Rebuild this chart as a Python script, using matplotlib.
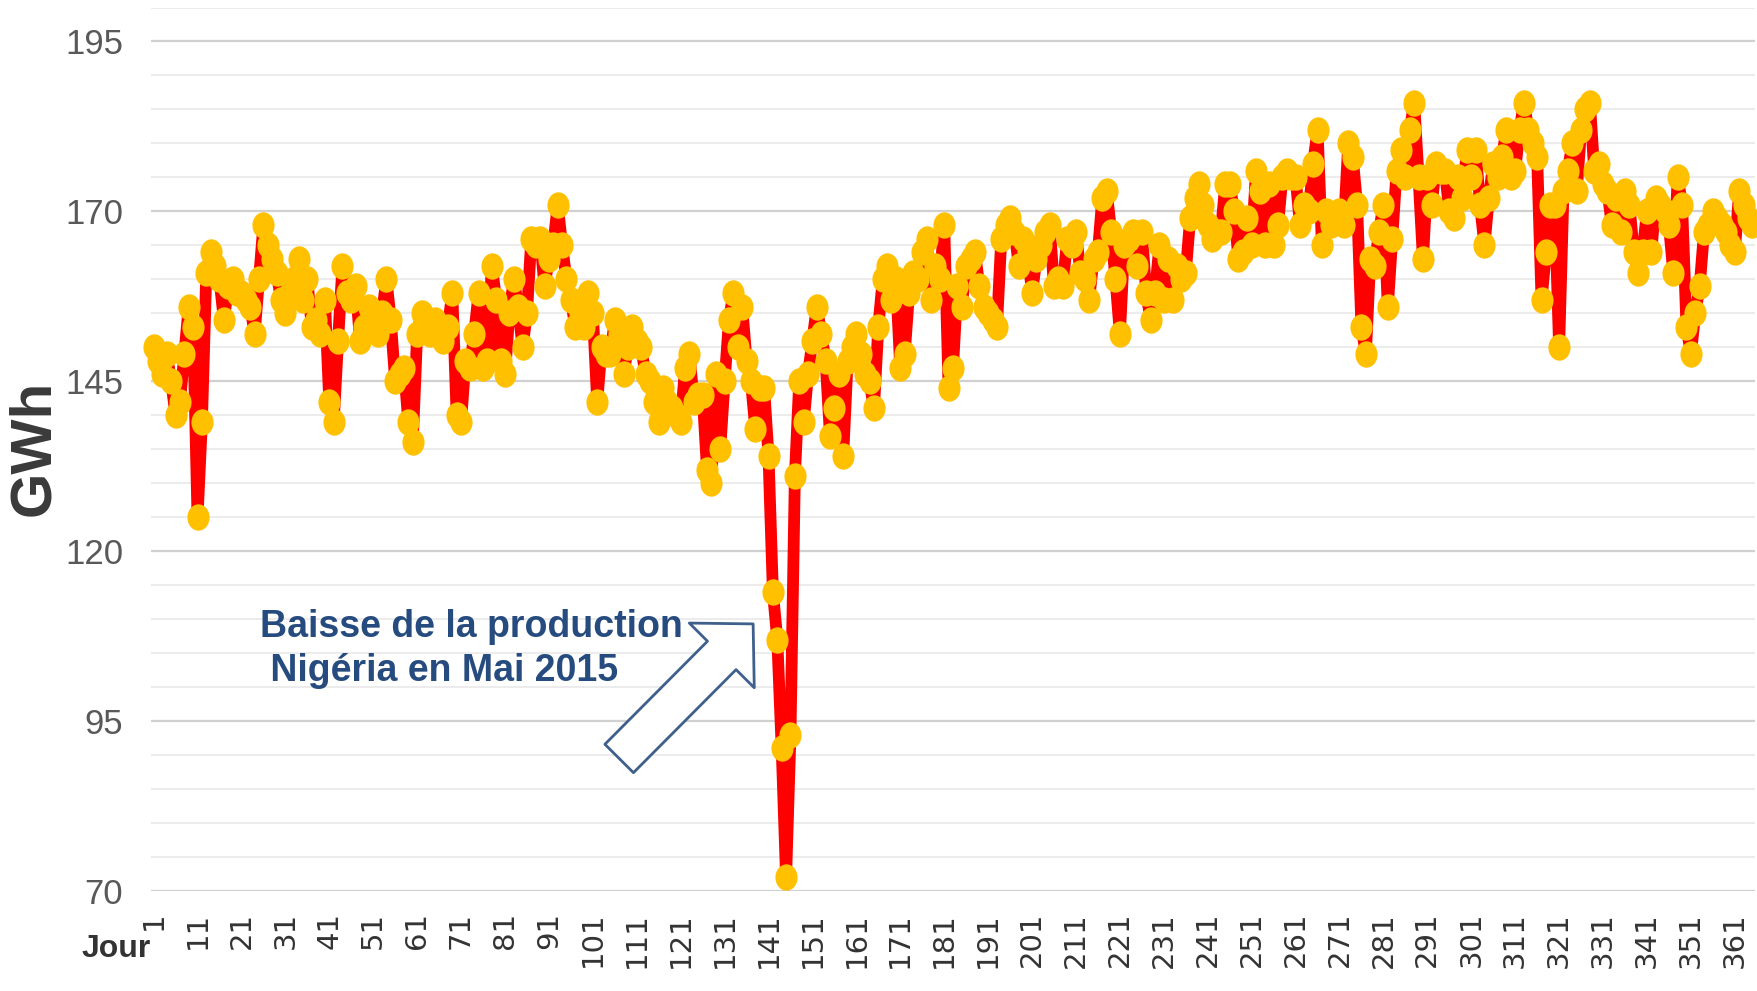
import matplotlib
matplotlib.use("Agg")
import matplotlib.pyplot as plt
from matplotlib.patches import FancyArrowPatch, ArrowStyle
from matplotlib.ticker import MultipleLocator
from matplotlib.path import Path
from matplotlib.transforms import Affine2D
import numpy as np

# ---------------- data ----------------
days = list(range(1, 366))
gwh = [
    150, 148, 146, 149, 145, 140, 142, 149, 156, 153,
    125, 139, 161, 164, 162, 160, 154, 159, 160, 158,
    158, 157, 156, 152, 160, 168, 165, 163, 161, 157,
    155, 158, 160, 163, 157, 160, 153, 154, 152, 157,
    142, 139, 151, 162, 158, 157, 159, 151, 153, 156,
    154, 152, 155, 160, 154, 145, 146, 147, 139, 136,
    152, 155, 153, 152, 154, 152, 151, 153, 158, 140,
    139, 148, 147, 152, 158, 147, 148, 162, 157, 148,
    146, 155, 160, 156, 150, 155, 166, 165, 166, 159,
    163, 165, 171, 165, 160, 157, 153, 155, 153, 158,
    155, 142, 150, 149, 149, 154, 152, 146, 150, 153,
    151, 150, 146, 145, 142, 139, 144, 142, 141, 140,
    139, 147, 149, 142, 143, 143, 132, 130, 146, 135,
    145, 154, 158, 150, 156, 148, 145, 138, 144, 144,
    134, 114, 107, 91, 72, 93, 131, 145, 139, 146,
    151, 156, 152, 148, 137, 141, 146, 134, 148, 150,
    152, 149, 146, 145, 141, 153, 160, 162, 157, 160,
    147, 149, 158, 161, 160, 164, 166, 157, 162, 160,
    168, 144, 147, 159, 156, 162, 163, 164, 159, 156,
    155, 154, 153, 166, 168, 169, 167, 162, 166, 164,
    158, 163, 165, 167, 168, 159, 160, 159, 166, 165,
    167, 161, 160, 157, 163, 164, 172, 173, 167, 160,
    152, 165, 166, 167, 162, 167, 158, 154, 158, 165,
    157, 163, 157, 162, 160, 161, 169, 172, 174, 171,
    168, 166, 167, 167, 174, 174, 170, 163, 164, 169,
    165, 176, 173, 165, 174, 165, 168, 175, 176, 175,
    175, 168, 171, 170, 177, 182, 165, 170, 168, 169,
    170, 168, 180, 178, 171, 153, 149, 163, 162, 167,
    171, 156, 166, 176, 179, 175, 182, 186, 175, 163,
    175, 171, 177, 176, 176, 170, 169, 175, 172, 179,
    175, 179, 171, 165, 172, 177, 175, 178, 182, 175,
    176, 182, 186, 182, 180, 178, 157, 164, 171, 171,
    150, 173, 176, 180, 173, 182, 185, 186, 176, 177,
    174, 173, 168, 172, 167, 173, 171, 164, 161, 164,
    170, 164, 172, 171, 170, 168, 161, 175, 171, 153,
    149, 155, 159, 167, 168, 170, 169, 168, 167, 165,
    164, 173, 171, 169, 168,
]
y_ticks = [70, 95, 120, 145, 170, 195]
x_tick_days = list(range(1, 366, 10))
x_tick_labels = [str(d) for d in x_tick_days]
y_label = "GWh"
x_label = "Jour"
annot_text = "Baisse de la production\n Nigéria en Mai 2015"

# ---------------- figure ----------------
W, H = 1758, 991
fig = plt.figure(figsize=(W / 100, H / 100), dpi=100)
ax = fig.add_axes([151 / W, 100 / H, 1604 / W, 883.5 / H])
ax.set_xlim(0.41, 365.6)
ax.set_ylim(70, 200)

for s in ax.spines.values():
    s.set_visible(False)

ax.set_yticks(y_ticks)
ax.yaxis.set_minor_locator(MultipleLocator(5))
ax.grid(which="minor", axis="y", color="#EBEBEB", lw=1.3, zorder=0)
ax.grid(which="major", axis="y", color="#D0D0D0", lw=1.6, zorder=0)
ax.set_axisbelow(True)

# slightly tall elliptical marker, as in the reference
ellipse = Path.unit_circle().transformed(Affine2D().scale(0.84, 1.0))

ax.plot(days, gwh, color="#FF0000", lw=8.5, solid_joinstyle="round",
        marker=ellipse, ms=19, mfc="#FFC000", mec="#FFC000", mew=0,
        zorder=3, clip_on=False)

ax.set_xticks(x_tick_days)
ax.set_xticklabels(x_tick_labels, rotation=90, fontsize=21,
                   color="#333333", family=["DejaVu Sans"])
ax.set_yticklabels([str(v) for v in y_ticks], fontsize=25,
                   color="#595959", family=["Liberation Sans", "DejaVu Sans"])
ax.tick_params(axis="x", which="both", length=0, pad=15)
ax.tick_params(axis="y", which="both", length=0, pad=20)

fig.text(34 / W, 1 - 448 / H, y_label, rotation=90, fontsize=42,
         fontweight="bold", color="#3A3A3A", ha="center", va="center",
         family=["Liberation Sans", "DejaVu Sans"])
fig.text(151 / W, 1 - 949 / H, x_label, ha="right", va="center",
         fontsize=23, fontweight="bold", color="#333333",
         family=["Liberation Sans", "DejaVu Sans"])

# annotation
ax.text(25.2, 111.5, annot_text, ha="left", va="top", fontsize=27,
        fontweight="bold", color="#264B7E", linespacing=1.3,
        family=["Liberation Sans", "DejaVu Sans"], zorder=5)

arrow = FancyArrowPatch(
    posA=(107.0, 89.5), posB=(137.5, 109.3),
    arrowstyle=ArrowStyle("Simple", head_length=0.32, head_width=0.66,
                          tail_width=0.29),
    mutation_scale=100, shrinkA=0, shrinkB=0,
    fc="white", ec="#40608C", lw=2.0, zorder=5)
ax.add_patch(arrow)

fig.savefig("out.png", dpi=100)
